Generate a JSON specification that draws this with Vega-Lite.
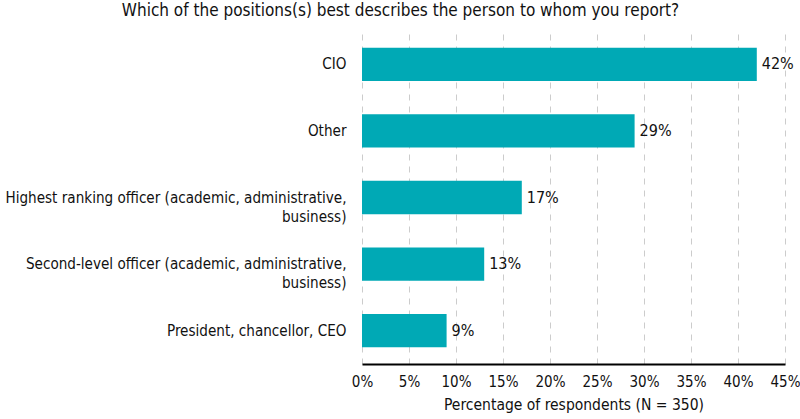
{
  "$schema": "https://vega.github.io/schema/vega-lite/v6.json",
  "width": 423,
  "height": 333,
  "autosize": {"type": "none"},
  "padding": {"left": 362, "top": 31, "right": 15, "bottom": 55},
  "background": "white",
  "title": {
    "text": "Which of the positions(s) best describes the person to whom you report?",
    "anchor": "middle",
    "frame": "group",
    "dx": -173,
    "offset": 11,
    "fontSize": 17,
    "fontWeight": "normal",
    "font": "DejaVu Sans Condensed",
    "color": "#111"
  },
  "data": {
    "values": [
      {"position": "CIO", "pct": 42},
      {"position": "Other", "pct": 29},
      {"position": "Highest ranking officer (academic, administrative,|business)", "pct": 17},
      {"position": "Second-level officer (academic, administrative,|business)", "pct": 13},
      {"position": "President, chancellor, CEO", "pct": 9}
    ]
  },
  "encoding": {
    "y": {
      "field": "position",
      "type": "nominal",
      "sort": null,
      "scale": {"paddingInner": 0.5, "paddingOuter": 0.25},
      "axis": {
        "title": null,
        "ticks": false,
        "domain": false,
        "labelExpr": "split(datum.label, '|')",
        "labelPadding": 16,
        "labelFontSize": 15.1,
        "labelFont": "DejaVu Sans Condensed",
        "labelColor": "#111",
        "labelLineHeight": 19,
        "labelLimit": 400
      }
    },
    "x": {
      "field": "pct",
      "type": "quantitative",
      "scale": {"domain": [0, 45], "nice": false},
      "axis": {
        "title": "Percentage of respondents (N = 350)",
        "values": [0, 5, 10, 15, 20, 25, 30, 35, 40, 45],
        "labelExpr": "datum.value + '%'",
        "labelFlush": false,
        "labelOverlap": false,
        "ticks": false,
        "domainColor": "#000",
        "domainWidth": 2,
        "grid": true,
        "gridDash": [6, 6],
        "gridColor": "#cccccc",
        "labelPadding": 10,
        "labelFontSize": 15,
        "labelFont": "DejaVu Sans Condensed",
        "labelColor": "#111",
        "titleFont": "DejaVu Sans Condensed",
        "titleFontSize": 15.5,
        "titleFontWeight": "normal",
        "titleColor": "#111",
        "titlePadding": 8
      }
    }
  },
  "layer": [
    {"mark": {"type": "bar", "color": "#00A9B5"}},
    {
      "mark": {"type": "text", "align": "left", "dx": 5, "fontSize": 16, "font": "DejaVu Sans Condensed", "color": "#111"},
      "encoding": {"text": {"field": "pct_label", "type": "nominal"}},
      "transform": [{"calculate": "datum.pct + '%'", "as": "pct_label"}]
    }
  ],
  "config": {"view": {"stroke": null}}
}
